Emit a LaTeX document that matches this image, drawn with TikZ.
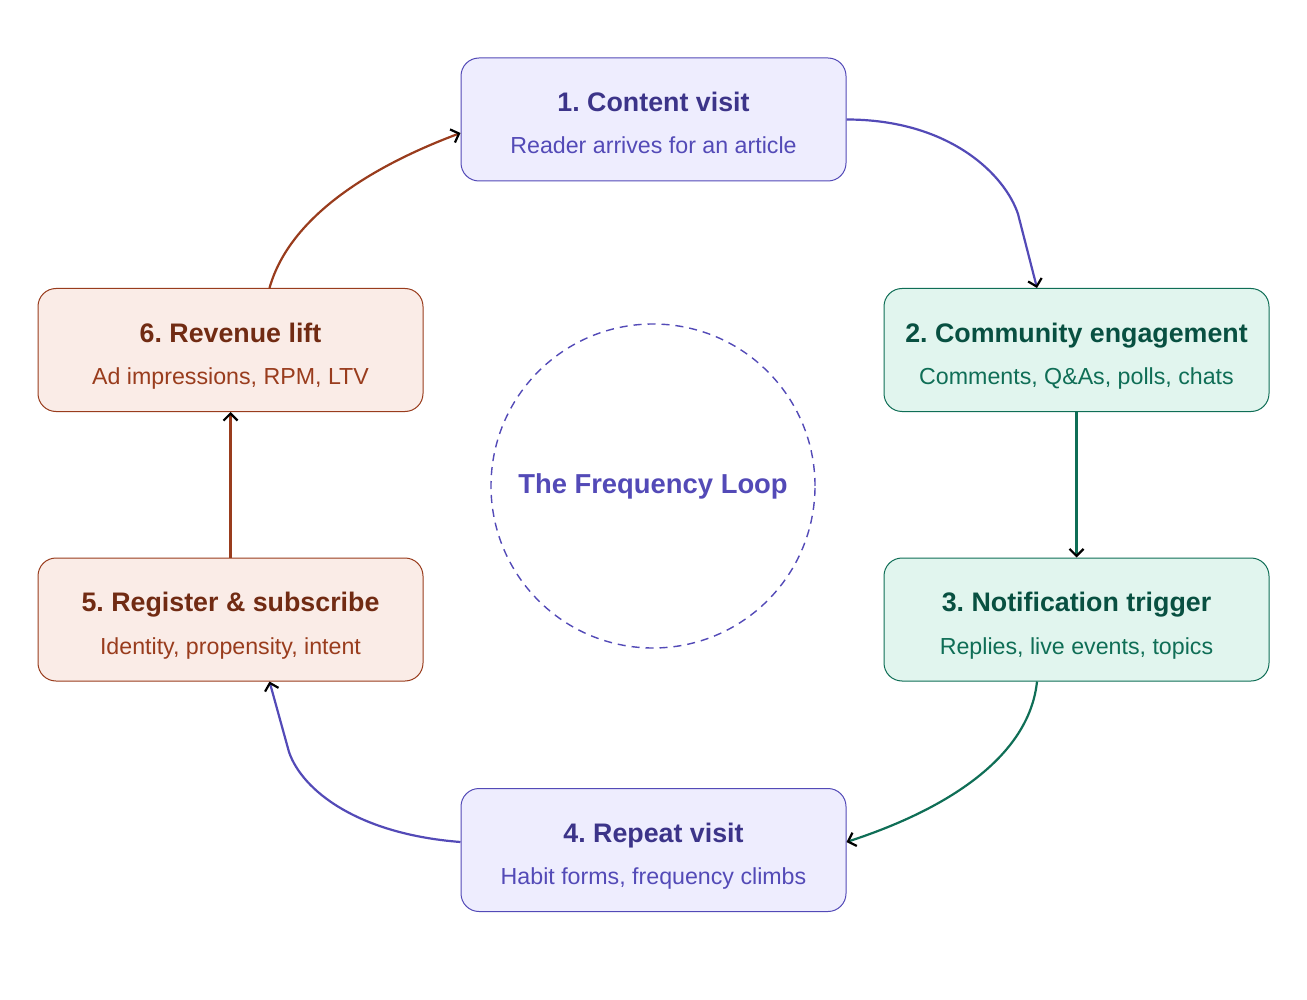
\documentclass[tikz,border=0pt]{standalone}
\usepackage{fontspec}
\setmainfont{Liberation Sans}
\frenchspacing
\usetikzlibrary{positioning,arrows.meta,calc}
\definecolor{purpfill}{HTML}{EEEDFE}
\definecolor{purpline}{HTML}{534AB7}
\definecolor{purpdark}{HTML}{3C3489}
\definecolor{greenfill}{HTML}{E1F5EE}
\definecolor{greenline}{HTML}{0F6E56}
\definecolor{greendark}{HTML}{085041}
\definecolor{rustfill}{HTML}{FAECE7}
\definecolor{rustline}{HTML}{993C1D}
\definecolor{rustdark}{HTML}{712B13}
\newcommand{\stagetxt}[3]{{\color{#1}\fontsize{13.4}{21.2}\selectfont\bfseries #2}\\{#3}}
\tikzset{
  stage/.style={rounded corners=9pt,line width=0.5pt,minimum width=192.5pt,minimum height=61.5pt,align=center,text height=37pt,text depth=2.5pt,font=\fontsize{11.6}{21.2}\selectfont},
  purpbox/.style={stage,fill=purpfill,draw=purpline,text=purpline},
  greenbox/.style={stage,fill=greenfill,draw=greenline,text=greenline},
  rustbox/.style={stage,fill=rustfill,draw=rustline,text=rustline},
  flow/.style={line width=1.1pt,-{Straight Barb[length=3.5pt,width=7pt,color=black]}},
  ring/.style={circle,dash pattern=on 4pt off 3pt,draw=purpline,line width=0.7pt,minimum size=162pt,text=purpline,font=\fontsize{13.7}{16}\selectfont\bfseries}
}
\begin{document}
\begin{tikzpicture}[x=0.5pt,y=-0.5pt]
  \useasboundingbox (0,0) rectangle (1307,1000);
  % the six stages
  \node[purpbox] (visit) at (653.5,119.5) {\stagetxt{purpdark}{1. Content visit}{Reader arrives for an article}};
  \node[greenbox] (engage) at (1076.5,350) {\stagetxt{greendark}{2. Community engagement}{Comments, Q\&As, polls, chats}};
  \node[greenbox] (notify) at (1076.5,619.5) {\stagetxt{greendark}{3. Notification trigger}{Replies, live events, topics}};
  \node[purpbox] (repeat) at (653.5,850) {\stagetxt{purpdark}{4. Repeat visit}{Habit forms, frequency climbs}};
  \node[rustbox] (register) at (230.5,619.5) {\stagetxt{rustdark}{5. Register \& subscribe}{Identity, propensity, intent}};
  \node[rustbox] (revenue) at (230.5,350) {\stagetxt{rustdark}{6. Revenue lift}{Ad impressions, RPM, LTV}};
  \node[ring] (loop) at (653,486) {The Frequency Loop};
  % arrows round the loop
  \draw[flow,draw=purpline] (visit.east) .. controls (950,119.5) and (1005,175) .. (1018,214) -- ($(engage.north)+(-39.5,0)$);
  \draw[flow,draw=greenline] (engage) -- (notify);
  \draw[flow,draw=greenline] ($(notify.south)+(-39.5,0)$) .. controls (1030,750) and (960,805) .. ($(repeat.east)+(0,-8)$);
  \draw[flow,draw=purpline] ($(repeat.west)+(0,-8)$) .. controls (357,834) and (302,790) .. (289,752) -- ($(register.south)+(39,0)$);
  \draw[flow,draw=rustline] (register) -- (revenue);
  \draw[flow,draw=rustline] ($(revenue.north)+(39,0)$) .. controls (290,215) and (375,165) .. ($(visit.west)+(0,13.5)$);
\end{tikzpicture}
\end{document}
